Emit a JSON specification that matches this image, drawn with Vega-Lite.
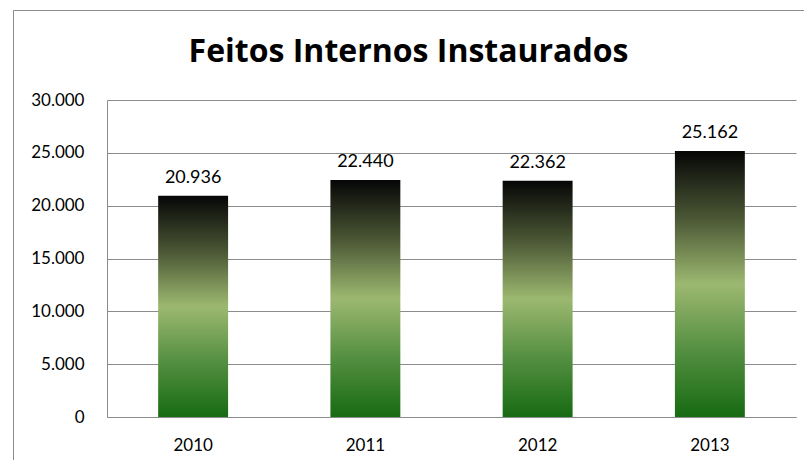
{
  "$schema": "https://vega.github.io/schema/vega-lite/v6.json",
  "autosize": {"type": "none"},
  "padding": {"left": 13, "top": 10, "right": 0, "bottom": 0},
  "width": 791,
  "height": 450,
  "background": "white",
  "config": {
    "locale": {"number": {"decimal": ",", "thousands": ".", "grouping": [3], "currency": ["R$", ""]}},
    "view": {"stroke": "#8c8c8c", "strokeWidth": 1, "strokeDash": [791, 1241]},
    "font": "Lato"
  },
  "title": {
    "text": "Feitos Internos Instaurados",
    "font": "Open Sans",
    "fontSize": 32,
    "fontWeight": "bold",
    "color": "#000000",
    "anchor": "middle",
    "frame": "group",
    "orient": "top",
    "baseline": "alphabetic",
    "offset": -84
  },
  "data": {
    "values": [
      {"ano": "2010", "valor": 20936},
      {"ano": "2011", "valor": 22440},
      {"ano": "2012", "valor": 22362},
      {"ano": "2013", "valor": 25162}
    ]
  },
  "encoding": {
    "x": {
      "field": "ano",
      "type": "nominal",
      "sort": null,
      "scale": {"range": [94, 783], "paddingInner": 0.594, "paddingOuter": 0.297},
      "axis": {
        "title": null,
        "offset": -43,
        "labelAngle": 0,
        "ticks": false,
        "tickSize": 0,
        "labelPadding": 20,
        "labelFont": "Lato",
        "labelFontSize": 17,
        "labelColor": "#000000",
        "domainColor": "#8c8c8c",
        "domainWidth": 1,
        "grid": false
      }
    },
    "y": {
      "field": "valor",
      "type": "quantitative",
      "scale": {"domain": [0, 30000], "range": [407, 90], "nice": false, "zero": true},
      "axis": {
        "title": null,
        "offset": -94,
        "values": [0, 5000, 10000, 15000, 20000, 25000, 30000],
        "format": ",d",
        "ticks": false,
        "tickSize": 0,
        "labelPadding": 23,
        "labelFont": "Lato",
        "labelFontSize": 17,
        "labelColor": "#000000",
        "domainColor": "#8c8c8c",
        "domainWidth": 1,
        "grid": true,
        "gridColor": "#8c8c8c",
        "gridWidth": 1
      }
    }
  },
  "layer": [
    {
      "mark": {
        "type": "bar",
        "color": {
          "gradient": "linear",
          "x1": 0, "y1": 0, "x2": 0, "y2": 1,
          "stops": [
            {"offset": 0, "color": "#060606"},
            {"offset": 0.25, "color": "#4a5634"},
            {"offset": 0.5, "color": "#9cb870"},
            {"offset": 0.75, "color": "#548f41"},
            {"offset": 1, "color": "#176b12"}
          ]
        }
      }
    },
    {
      "mark": {
        "type": "text",
        "font": "Lato",
        "fontSize": 18,
        "color": "#000000",
        "baseline": "alphabetic",
        "dy": -13
      },
      "encoding": {
        "text": {"field": "valor", "type": "quantitative", "format": ",d"}
      }
    }
  ]
}
